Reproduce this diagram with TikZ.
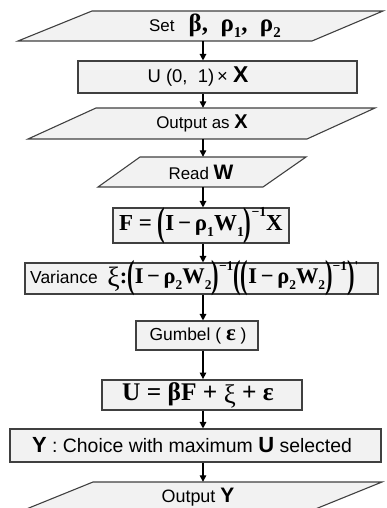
\documentclass[tikz,border=0pt]{standalone}
\usepackage{fontspec}
\usepackage{graphicx}
\setmainfont{Liberation Sans}
\newfontfamily\serif{Liberation Serif}
\usetikzlibrary{arrows.meta}
\definecolor{boxfill}{HTML}{F2F2F2}
\definecolor{boxline}{HTML}{404040}
% font size shortcut, bold serif symbols, sub/superscripts, tall parentheses
\newcommand\fs[1]{\fontsize{#1}{#1}\selectfont}
\newcommand\bs[1]{{\serif\bfseries #1}}
\newcommand\xig[1]{\raisebox{-0.12em}{\serif\mdseries\fs{#1}ξ}}
\newcommand\lo[1]{\raisebox{-0.25em}{\scalebox{0.6}{#1}}}
\newcommand\hi[1]{\raisebox{0.6em}{\scalebox{0.6}{#1}}}
\newcommand\lpar{\raisebox{-0.2em}{\scalebox{1}[1.75]{(}}}
\newcommand\rpar{\raisebox{-0.2em}{\scalebox{1}[1.75]{)}}}
\newcommand\mn{\,−\,}
\begin{document}
\begin{tikzpicture}[x=1bp,y=-1bp,
  procbox/.style={draw=boxline, fill=boxfill, line width=1.1bp, inner sep=0pt},
  iobox/.style={draw=boxline, fill=boxfill, line width=1.1bp, line join=miter},
  lbl/.style={inner sep=0pt, text=black},
  flow/.style={line width=1.3bp, draw=black, -{Triangle[length=6.5bp,width=6.5bp]}}]
\clip (0,0) rectangle (386,508);
\useasboundingbox (0,0) rectangle (386,508);
\coordinate (spine) at (203,0);

% input: parameters
\draw[iobox] (92,11) -- (383,11) -- (312,41) -- (18,41) -- cycle;
\node[lbl, minimum height=30bp] (setpar) at (215,26)
  {\fs{17}Set\ \ \ \bs{\fs{25}β,\ \ ρ\lo{1},\ \ ρ\lo{2}}};

% uniform draw
\node[procbox, minimum width=279bp, minimum height=32bp] (unif) at (217.5,77) {};
\node[lbl] (uniflbl) at (198,77) {\fs{18.5}U (0,\ \ 1)\,× \textbf{\fs{23}X}};

% output X
\draw[iobox] (96,108) -- (375,108) -- (307,139) -- (28,139) -- cycle;
\node[lbl, minimum height=31bp] (outx) at (202,123.5)
  {\fs{17}Output as \textbf{\fs{20}X}};

% read W
\draw[iobox] (140,157) -- (306,157) -- (263,187) -- (98,187) -- cycle;
\node[lbl, minimum height=30bp] (readw) at (201,172)
  {\fs{17}Read \textbf{\fs{21}W}};

% spatial filter F
\node[procbox, minimum width=176bp, minimum height=35bp] (fbox) at (201,225.5) {};
\node[lbl] (flbl) at (201,225.5)
  {\bs{\fs{23}F = \lpar I\mn ρ\lo{1}W\lo{1}\rpar\hi{−1}X}};

% variance of xi
\node[procbox, minimum width=353bp, minimum height=31bp] (varbox) at (201.5,278.5) {};
\node[lbl, anchor=west] (varlbl) at (30,278.5)
  {\fs{17.5}Variance\ \ \bs{\fs{22.5}\xig{28}:\lpar I\mn ρ\lo{2}W\lo{2}\rpar\hi{−1}\lpar\lpar I\mn ρ\lo{2}W\lo{2}\rpar\hi{−1}\rpar\hi{'}}};

% Gumbel error
\node[procbox, minimum width=122bp, minimum height=29bp] (gumbox) at (197,335.5) {};
\node[lbl] (gumlbl) at (198,335.5) {\fs{17.5}Gumbel ( \bs{\fs{23}ε} )};

% utility
\node[procbox, line width=1.8bp, minimum width=200bp, minimum height=30bp] (ubox) at (202,395) {};
\node[lbl] (ulbl) at (198,395) {\bs{\fs{25.5}U = βF + \xig{27} + ε}};

% choice
\node[procbox, minimum width=371bp, minimum height=33bp] (ybox) at (195.5,445.5) {};
\node[lbl] (ylbl) at (192,445.5)
  {\textbf{\fs{22}Y}\fs{19.5} : Choice with maximum \textbf{\fs{22}U} selected};

% output Y
\draw[iobox] (93,482) -- (382,482) -- (308,512) -- (19,512) -- cycle;
\node[lbl, minimum height=30bp] (outy) at (198,497)
  {\fs{18}Output \textbf{\fs{21}Y}};

% flow arrows along the spine
\draw[flow] (setpar.south -| spine) -- (unif.north -| spine);
\draw[flow] (unif.south -| spine) -- (outx.north -| spine);
\draw[flow] (outx.south -| spine) -- (readw.north -| spine);
\draw[flow] (readw.south -| spine) -- (fbox.north -| spine);
\draw[flow] (fbox.south -| spine) -- (varbox.north -| spine);
\draw[flow] (varbox.south -| spine) -- (gumbox.north -| spine);
\draw[flow] (gumbox.south -| spine) -- (ubox.north -| spine);
\draw[flow] (ubox.south -| spine) -- (ybox.north -| spine);
\draw[flow] (ybox.south -| spine) -- (outy.north -| spine);
\end{tikzpicture}
\end{document}
